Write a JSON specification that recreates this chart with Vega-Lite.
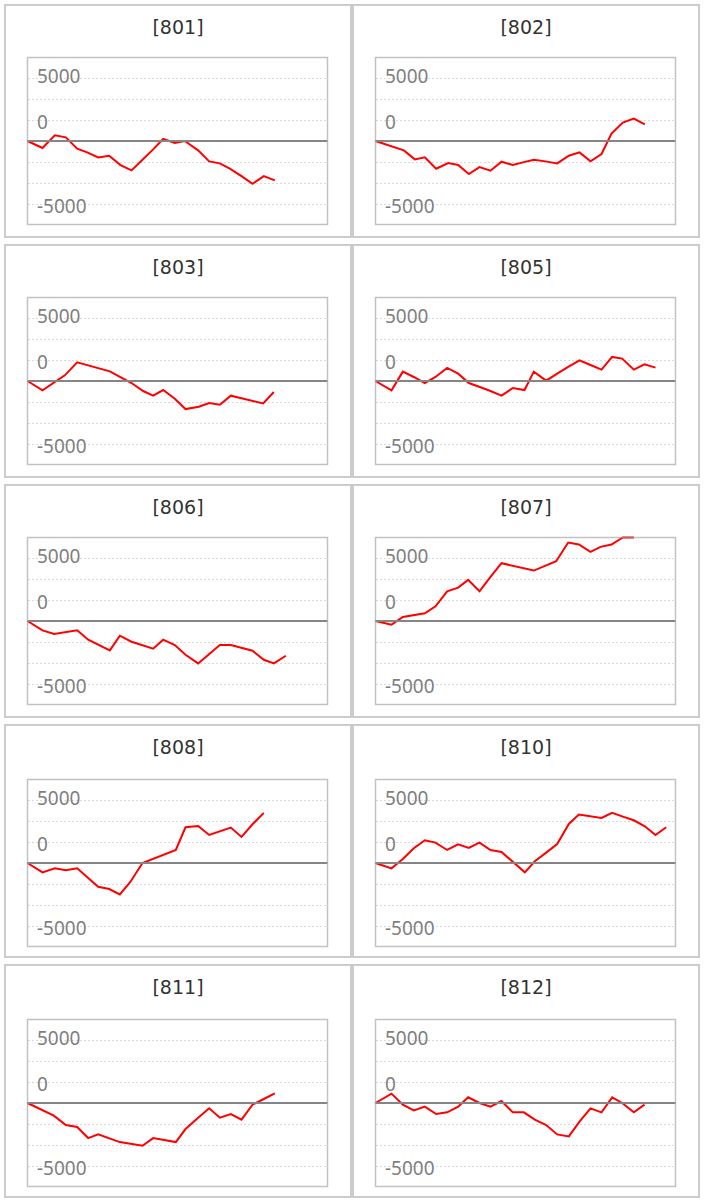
{
"$schema":"https://vega.github.io/schema/vega-lite/v6.json",
"padding":4,
"background":"white",
"data":{"values":[
{"id":"801","x":0,"y":0},{"id":"801","x":450,"y":-672},{"id":"801","x":820,"y":544},{"id":"801","x":1150,"y":352},{"id":"801","x":1490,"y":-736},{"id":"801","x":1790,"y":-1088},{"id":"801","x":2120,"y":-1568},{"id":"801","x":2450,"y":-1408},{"id":"801","x":2790,"y":-2304},{"id":"801","x":3120,"y":-2816},{"id":"801","x":3450,"y":-1792},{"id":"801","x":3770,"y":-800},{"id":"801","x":4070,"y":192},{"id":"801","x":4420,"y":-192},{"id":"801","x":4720,"y":0},{"id":"801","x":5120,"y":-896},{"id":"801","x":5450,"y":-1952},{"id":"801","x":5770,"y":-2144},{"id":"801","x":6070,"y":-2656},{"id":"801","x":6420,"y":-3360},{"id":"801","x":6750,"y":-4096},{"id":"801","x":7090,"y":-3360},{"id":"801","x":7420,"y":-3776},
{"id":"802","x":0,"y":0},{"id":"802","x":850,"y":-896},{"id":"802","x":1180,"y":-1760},{"id":"802","x":1480,"y":-1568},{"id":"802","x":1820,"y":-2656},{"id":"802","x":2180,"y":-2112},{"id":"802","x":2480,"y":-2304},{"id":"802","x":2800,"y":-3168},{"id":"802","x":3120,"y":-2496},{"id":"802","x":3450,"y":-2848},{"id":"802","x":3780,"y":-1984},{"id":"802","x":4120,"y":-2304},{"id":"802","x":4420,"y":-2048},{"id":"802","x":4750,"y":-1792},{"id":"802","x":5100,"y":-1952},{"id":"802","x":5450,"y":-2144},{"id":"802","x":5800,"y":-1408},{"id":"802","x":6120,"y":-1088},{"id":"802","x":6450,"y":-1952},{"id":"802","x":6780,"y":-1248},{"id":"802","x":7080,"y":704},{"id":"802","x":7420,"y":1760},{"id":"802","x":7750,"y":2144},{"id":"802","x":8080,"y":1600},
{"id":"803","x":0,"y":0},{"id":"803","x":450,"y":-896},{"id":"803","x":1120,"y":544},{"id":"803","x":1490,"y":1792},{"id":"803","x":2470,"y":928},{"id":"803","x":3120,"y":-192},{"id":"803","x":3470,"y":-960},{"id":"803","x":3770,"y":-1408},{"id":"803","x":4070,"y":-864},{"id":"803","x":4420,"y":-1696},{"id":"803","x":4740,"y":-2688},{"id":"803","x":5140,"y":-2464},{"id":"803","x":5450,"y":-2112},{"id":"803","x":5770,"y":-2272},{"id":"803","x":6100,"y":-1408},{"id":"803","x":7070,"y":-2144},{"id":"803","x":7390,"y":-1056},
{"id":"805","x":0,"y":0},{"id":"805","x":480,"y":-896},{"id":"805","x":820,"y":896},{"id":"805","x":1150,"y":384},{"id":"805","x":1480,"y":-192},{"id":"805","x":1800,"y":384},{"id":"805","x":2150,"y":1248},{"id":"805","x":2480,"y":704},{"id":"805","x":2800,"y":-192},{"id":"805","x":3130,"y":-576},{"id":"805","x":3450,"y":-960},{"id":"805","x":3780,"y":-1408},{"id":"805","x":4120,"y":-672},{"id":"805","x":4470,"y":-864},{"id":"805","x":4750,"y":896},{"id":"805","x":5120,"y":32},{"id":"805","x":5450,"y":704},{"id":"805","x":5780,"y":1344},{"id":"805","x":6120,"y":1984},{"id":"805","x":6450,"y":1536},{"id":"805","x":6780,"y":1088},{"id":"805","x":7100,"y":2304},{"id":"805","x":7400,"y":2144},{"id":"805","x":7750,"y":1088},{"id":"805","x":8070,"y":1600},{"id":"805","x":8400,"y":1280},
{"id":"806","x":0,"y":0},{"id":"806","x":450,"y":-896},{"id":"806","x":800,"y":-1248},{"id":"806","x":1490,"y":-896},{"id":"806","x":1820,"y":-1792},{"id":"806","x":2470,"y":-2816},{"id":"806","x":2770,"y":-1408},{"id":"806","x":3120,"y":-1984},{"id":"806","x":3770,"y":-2656},{"id":"806","x":4070,"y":-1792},{"id":"806","x":4420,"y":-2304},{"id":"806","x":4740,"y":-3232},{"id":"806","x":5120,"y":-4064},{"id":"806","x":5770,"y":-2304},{"id":"806","x":6100,"y":-2304},{"id":"806","x":6750,"y":-2848},{"id":"806","x":7090,"y":-3712},{"id":"806","x":7390,"y":-4064},{"id":"806","x":7750,"y":-3328},
{"id":"807","x":0,"y":0},{"id":"807","x":480,"y":-352},{"id":"807","x":820,"y":384},{"id":"807","x":1480,"y":736},{"id":"807","x":1800,"y":1408},{"id":"807","x":2150,"y":2848},{"id":"807","x":2480,"y":3200},{"id":"807","x":2780,"y":3936},{"id":"807","x":3120,"y":2848},{"id":"807","x":3450,"y":4224},{"id":"807","x":3780,"y":5536},{"id":"807","x":4750,"y":4832},{"id":"807","x":5420,"y":5728},{"id":"807","x":5780,"y":7520},{"id":"807","x":6100,"y":7328},{"id":"807","x":6450,"y":6624},{"id":"807","x":6750,"y":7104},{"id":"807","x":7080,"y":7328},{"id":"807","x":7420,"y":8000},{"id":"807","x":7750,"y":9500},
{"id":"808","x":0,"y":0},{"id":"808","x":450,"y":-896},{"id":"808","x":820,"y":-512},{"id":"808","x":1150,"y":-704},{"id":"808","x":1490,"y":-512},{"id":"808","x":2120,"y":-2272},{"id":"808","x":2450,"y":-2496},{"id":"808","x":2770,"y":-3008},{"id":"808","x":3090,"y":-1792},{"id":"808","x":3450,"y":0},{"id":"808","x":4450,"y":1248},{"id":"808","x":4740,"y":3424},{"id":"808","x":5120,"y":3552},{"id":"808","x":5450,"y":2688},{"id":"808","x":6100,"y":3392},{"id":"808","x":6420,"y":2496},{"id":"808","x":6750,"y":3712},{"id":"808","x":7090,"y":4800},
{"id":"810","x":0,"y":0},{"id":"810","x":480,"y":-512},{"id":"810","x":820,"y":384},{"id":"810","x":1150,"y":1408},{"id":"810","x":1480,"y":2176},{"id":"810","x":1800,"y":1952},{"id":"810","x":2150,"y":1248},{"id":"810","x":2480,"y":1792},{"id":"810","x":2800,"y":1440},{"id":"810","x":3120,"y":1952},{"id":"810","x":3450,"y":1248},{"id":"810","x":3780,"y":1056},{"id":"810","x":4480,"y":-896},{"id":"810","x":4780,"y":160},{"id":"810","x":5120,"y":992},{"id":"810","x":5450,"y":1824},{"id":"810","x":5800,"y":3744},{"id":"810","x":6100,"y":4640},{"id":"810","x":6780,"y":4320},{"id":"810","x":7100,"y":4800},{"id":"810","x":7420,"y":4448},{"id":"810","x":7750,"y":4096},{"id":"810","x":8080,"y":3520},{"id":"810","x":8400,"y":2688},{"id":"810","x":8720,"y":3424},
{"id":"811","x":0,"y":0},{"id":"811","x":790,"y":-1216},{"id":"811","x":1150,"y":-2112},{"id":"811","x":1490,"y":-2304},{"id":"811","x":1820,"y":-3360},{"id":"811","x":2120,"y":-3008},{"id":"811","x":2770,"y":-3744},{"id":"811","x":3450,"y":-4096},{"id":"811","x":3770,"y":-3360},{"id":"811","x":4450,"y":-3744},{"id":"811","x":4740,"y":-2496},{"id":"811","x":5120,"y":-1408},{"id":"811","x":5450,"y":-512},{"id":"811","x":5770,"y":-1408},{"id":"811","x":6100,"y":-1056},{"id":"811","x":6420,"y":-1600},{"id":"811","x":6750,"y":-160},{"id":"811","x":7090,"y":384},{"id":"811","x":7420,"y":928},
{"id":"812","x":0,"y":0},{"id":"812","x":480,"y":896},{"id":"812","x":820,"y":-160},{"id":"812","x":1150,"y":-704},{"id":"812","x":1480,"y":-352},{"id":"812","x":1820,"y":-1056},{"id":"812","x":2150,"y":-896},{"id":"812","x":2480,"y":-352},{"id":"812","x":2780,"y":544},{"id":"812","x":3120,"y":0},{"id":"812","x":3450,"y":-352},{"id":"812","x":3780,"y":192},{"id":"812","x":4120,"y":-896},{"id":"812","x":4450,"y":-896},{"id":"812","x":4780,"y":-1600},{"id":"812","x":5120,"y":-2112},{"id":"812","x":5450,"y":-3008},{"id":"812","x":5800,"y":-3200},{"id":"812","x":6120,"y":-1792},{"id":"812","x":6450,"y":-512},{"id":"812","x":6780,"y":-896},{"id":"812","x":7100,"y":544},{"id":"812","x":7400,"y":0},{"id":"812","x":7750,"y":-896},{"id":"812","x":8070,"y":-160}
]},
"columns":2,
"spacing":{"row":6,"column":0},
"concat":[
{"title":"[801]","width":346,"height":232,"resolve":{"axis":{"y":"independent"}},"layer":[
 {"transform":[{"filter":"datum.id === '801'"}],"mark":{"type":"line","color":"#ff0000","strokeWidth":2},
  "encoding":{"x":{"field":"x","type":"quantitative","scale":{"domain":[0,9000],"range":[22.5,322.5],"nice":false,"zero":false},"axis":null},
   "y":{"field":"y","type":"quantitative","scale":{"domain":[-8000,8000],"range":[219.5,52.5],"nice":false,"zero":false,"clamp":true},
    "axis":{"values":[-6000,-4000,-2000,2000,4000,6000],"title":null,"domain":false,"ticks":false,"labelPadding":-31.5,"labelAlign":"left","labelBaseline":"middle","labelFont":"Noto Sans","labelFontSize":19,"labelColor":"#7f7f7f","labelOverlap":false,"labelFlush":false,"labelOffset":{"condition":[{"test":"datum.value === 6000","value":-1.5},{"test":"datum.value === -6000","value":3}],"value":2.5},"labelExpr":"datum.value === 6000 ? '5000' : datum.value === 2000 ? '0' : datum.value === -6000 ? '-5000' : ''","grid":true,"gridColor":"#d9d9d9","gridDash":[2,2],"gridWidth":1}}}},
 {"data":{"values":[{}]},"mark":{"type":"rule","color":"#858585","strokeWidth":2},
  "encoding":{"x":{"datum":0,"type":"quantitative","axis":null},"x2":{"datum":9000},"y":{"datum":0,"type":"quantitative","axis":null}}},
 {"data":{"values":[{}]},"mark":{"type":"rect","filled":false,"color":"#999999","strokeOpacity":0.6,"strokeWidth":1.5},
  "encoding":{"x":{"datum":0,"type":"quantitative","axis":null},"x2":{"datum":9000},"y":{"datum":-8000,"type":"quantitative","axis":null},"y2":{"datum":8000}}}
]},
{"title":"[802]","width":346,"height":232,"resolve":{"axis":{"y":"independent"}},"layer":[
 {"transform":[{"filter":"datum.id === '802'"}],"mark":{"type":"line","color":"#ff0000","strokeWidth":2},
  "encoding":{"x":{"field":"x","type":"quantitative","scale":{"domain":[0,9000],"range":[22.5,322.5],"nice":false,"zero":false},"axis":null},
   "y":{"field":"y","type":"quantitative","scale":{"domain":[-8000,8000],"range":[219.5,52.5],"nice":false,"zero":false,"clamp":true},
    "axis":{"values":[-6000,-4000,-2000,2000,4000,6000],"title":null,"domain":false,"ticks":false,"labelPadding":-31.5,"labelAlign":"left","labelBaseline":"middle","labelFont":"Noto Sans","labelFontSize":19,"labelColor":"#7f7f7f","labelOverlap":false,"labelFlush":false,"labelOffset":{"condition":[{"test":"datum.value === 6000","value":-1.5},{"test":"datum.value === -6000","value":3}],"value":2.5},"labelExpr":"datum.value === 6000 ? '5000' : datum.value === 2000 ? '0' : datum.value === -6000 ? '-5000' : ''","grid":true,"gridColor":"#d9d9d9","gridDash":[2,2],"gridWidth":1}}}},
 {"data":{"values":[{}]},"mark":{"type":"rule","color":"#858585","strokeWidth":2},
  "encoding":{"x":{"datum":0,"type":"quantitative","axis":null},"x2":{"datum":9000},"y":{"datum":0,"type":"quantitative","axis":null}}},
 {"data":{"values":[{}]},"mark":{"type":"rect","filled":false,"color":"#999999","strokeOpacity":0.6,"strokeWidth":1.5},
  "encoding":{"x":{"datum":0,"type":"quantitative","axis":null},"x2":{"datum":9000},"y":{"datum":-8000,"type":"quantitative","axis":null},"y2":{"datum":8000}}}
]},
{"title":"[803]","width":346,"height":232,"resolve":{"axis":{"y":"independent"}},"layer":[
 {"transform":[{"filter":"datum.id === '803'"}],"mark":{"type":"line","color":"#ff0000","strokeWidth":2},
  "encoding":{"x":{"field":"x","type":"quantitative","scale":{"domain":[0,9000],"range":[22.5,322.5],"nice":false,"zero":false},"axis":null},
   "y":{"field":"y","type":"quantitative","scale":{"domain":[-8000,8000],"range":[219.5,52.5],"nice":false,"zero":false,"clamp":true},
    "axis":{"values":[-6000,-4000,-2000,2000,4000,6000],"title":null,"domain":false,"ticks":false,"labelPadding":-31.5,"labelAlign":"left","labelBaseline":"middle","labelFont":"Noto Sans","labelFontSize":19,"labelColor":"#7f7f7f","labelOverlap":false,"labelFlush":false,"labelOffset":{"condition":[{"test":"datum.value === 6000","value":-1.5},{"test":"datum.value === -6000","value":3}],"value":2.5},"labelExpr":"datum.value === 6000 ? '5000' : datum.value === 2000 ? '0' : datum.value === -6000 ? '-5000' : ''","grid":true,"gridColor":"#d9d9d9","gridDash":[2,2],"gridWidth":1}}}},
 {"data":{"values":[{}]},"mark":{"type":"rule","color":"#858585","strokeWidth":2},
  "encoding":{"x":{"datum":0,"type":"quantitative","axis":null},"x2":{"datum":9000},"y":{"datum":0,"type":"quantitative","axis":null}}},
 {"data":{"values":[{}]},"mark":{"type":"rect","filled":false,"color":"#999999","strokeOpacity":0.6,"strokeWidth":1.5},
  "encoding":{"x":{"datum":0,"type":"quantitative","axis":null},"x2":{"datum":9000},"y":{"datum":-8000,"type":"quantitative","axis":null},"y2":{"datum":8000}}}
]},
{"title":"[805]","width":346,"height":232,"resolve":{"axis":{"y":"independent"}},"layer":[
 {"transform":[{"filter":"datum.id === '805'"}],"mark":{"type":"line","color":"#ff0000","strokeWidth":2},
  "encoding":{"x":{"field":"x","type":"quantitative","scale":{"domain":[0,9000],"range":[22.5,322.5],"nice":false,"zero":false},"axis":null},
   "y":{"field":"y","type":"quantitative","scale":{"domain":[-8000,8000],"range":[219.5,52.5],"nice":false,"zero":false,"clamp":true},
    "axis":{"values":[-6000,-4000,-2000,2000,4000,6000],"title":null,"domain":false,"ticks":false,"labelPadding":-31.5,"labelAlign":"left","labelBaseline":"middle","labelFont":"Noto Sans","labelFontSize":19,"labelColor":"#7f7f7f","labelOverlap":false,"labelFlush":false,"labelOffset":{"condition":[{"test":"datum.value === 6000","value":-1.5},{"test":"datum.value === -6000","value":3}],"value":2.5},"labelExpr":"datum.value === 6000 ? '5000' : datum.value === 2000 ? '0' : datum.value === -6000 ? '-5000' : ''","grid":true,"gridColor":"#d9d9d9","gridDash":[2,2],"gridWidth":1}}}},
 {"data":{"values":[{}]},"mark":{"type":"rule","color":"#858585","strokeWidth":2},
  "encoding":{"x":{"datum":0,"type":"quantitative","axis":null},"x2":{"datum":9000},"y":{"datum":0,"type":"quantitative","axis":null}}},
 {"data":{"values":[{}]},"mark":{"type":"rect","filled":false,"color":"#999999","strokeOpacity":0.6,"strokeWidth":1.5},
  "encoding":{"x":{"datum":0,"type":"quantitative","axis":null},"x2":{"datum":9000},"y":{"datum":-8000,"type":"quantitative","axis":null},"y2":{"datum":8000}}}
]},
{"title":"[806]","width":346,"height":232,"resolve":{"axis":{"y":"independent"}},"layer":[
 {"transform":[{"filter":"datum.id === '806'"}],"mark":{"type":"line","color":"#ff0000","strokeWidth":2},
  "encoding":{"x":{"field":"x","type":"quantitative","scale":{"domain":[0,9000],"range":[22.5,322.5],"nice":false,"zero":false},"axis":null},
   "y":{"field":"y","type":"quantitative","scale":{"domain":[-8000,8000],"range":[219.5,52.5],"nice":false,"zero":false,"clamp":true},
    "axis":{"values":[-6000,-4000,-2000,2000,4000,6000],"title":null,"domain":false,"ticks":false,"labelPadding":-31.5,"labelAlign":"left","labelBaseline":"middle","labelFont":"Noto Sans","labelFontSize":19,"labelColor":"#7f7f7f","labelOverlap":false,"labelFlush":false,"labelOffset":{"condition":[{"test":"datum.value === 6000","value":-1.5},{"test":"datum.value === -6000","value":3}],"value":2.5},"labelExpr":"datum.value === 6000 ? '5000' : datum.value === 2000 ? '0' : datum.value === -6000 ? '-5000' : ''","grid":true,"gridColor":"#d9d9d9","gridDash":[2,2],"gridWidth":1}}}},
 {"data":{"values":[{}]},"mark":{"type":"rule","color":"#858585","strokeWidth":2},
  "encoding":{"x":{"datum":0,"type":"quantitative","axis":null},"x2":{"datum":9000},"y":{"datum":0,"type":"quantitative","axis":null}}},
 {"data":{"values":[{}]},"mark":{"type":"rect","filled":false,"color":"#999999","strokeOpacity":0.6,"strokeWidth":1.5},
  "encoding":{"x":{"datum":0,"type":"quantitative","axis":null},"x2":{"datum":9000},"y":{"datum":-8000,"type":"quantitative","axis":null},"y2":{"datum":8000}}}
]},
{"title":"[807]","width":346,"height":232,"resolve":{"axis":{"y":"independent"}},"layer":[
 {"transform":[{"filter":"datum.id === '807'"}],"mark":{"type":"line","color":"#ff0000","strokeWidth":2},
  "encoding":{"x":{"field":"x","type":"quantitative","scale":{"domain":[0,9000],"range":[22.5,322.5],"nice":false,"zero":false},"axis":null},
   "y":{"field":"y","type":"quantitative","scale":{"domain":[-8000,8000],"range":[219.5,52.5],"nice":false,"zero":false,"clamp":true},
    "axis":{"values":[-6000,-4000,-2000,2000,4000,6000],"title":null,"domain":false,"ticks":false,"labelPadding":-31.5,"labelAlign":"left","labelBaseline":"middle","labelFont":"Noto Sans","labelFontSize":19,"labelColor":"#7f7f7f","labelOverlap":false,"labelFlush":false,"labelOffset":{"condition":[{"test":"datum.value === 6000","value":-1.5},{"test":"datum.value === -6000","value":3}],"value":2.5},"labelExpr":"datum.value === 6000 ? '5000' : datum.value === 2000 ? '0' : datum.value === -6000 ? '-5000' : ''","grid":true,"gridColor":"#d9d9d9","gridDash":[2,2],"gridWidth":1}}}},
 {"data":{"values":[{}]},"mark":{"type":"rule","color":"#858585","strokeWidth":2},
  "encoding":{"x":{"datum":0,"type":"quantitative","axis":null},"x2":{"datum":9000},"y":{"datum":0,"type":"quantitative","axis":null}}},
 {"data":{"values":[{}]},"mark":{"type":"rect","filled":false,"color":"#999999","strokeOpacity":0.6,"strokeWidth":1.5},
  "encoding":{"x":{"datum":0,"type":"quantitative","axis":null},"x2":{"datum":9000},"y":{"datum":-8000,"type":"quantitative","axis":null},"y2":{"datum":8000}}}
]},
{"title":"[808]","width":346,"height":232,"resolve":{"axis":{"y":"independent"}},"layer":[
 {"transform":[{"filter":"datum.id === '808'"}],"mark":{"type":"line","color":"#ff0000","strokeWidth":2},
  "encoding":{"x":{"field":"x","type":"quantitative","scale":{"domain":[0,9000],"range":[22.5,322.5],"nice":false,"zero":false},"axis":null},
   "y":{"field":"y","type":"quantitative","scale":{"domain":[-8000,8000],"range":[221.5,54.5],"nice":false,"zero":false,"clamp":true},
    "axis":{"values":[-6000,-4000,-2000,2000,4000,6000],"title":null,"domain":false,"ticks":false,"labelPadding":-31.5,"labelAlign":"left","labelBaseline":"middle","labelFont":"Noto Sans","labelFontSize":19,"labelColor":"#7f7f7f","labelOverlap":false,"labelFlush":false,"labelOffset":{"condition":[{"test":"datum.value === 6000","value":-1.5},{"test":"datum.value === -6000","value":3}],"value":2.5},"labelExpr":"datum.value === 6000 ? '5000' : datum.value === 2000 ? '0' : datum.value === -6000 ? '-5000' : ''","grid":true,"gridColor":"#d9d9d9","gridDash":[2,2],"gridWidth":1}}}},
 {"data":{"values":[{}]},"mark":{"type":"rule","color":"#858585","strokeWidth":2},
  "encoding":{"x":{"datum":0,"type":"quantitative","axis":null},"x2":{"datum":9000},"y":{"datum":0,"type":"quantitative","axis":null}}},
 {"data":{"values":[{}]},"mark":{"type":"rect","filled":false,"color":"#999999","strokeOpacity":0.6,"strokeWidth":1.5},
  "encoding":{"x":{"datum":0,"type":"quantitative","axis":null},"x2":{"datum":9000},"y":{"datum":-8000,"type":"quantitative","axis":null},"y2":{"datum":8000}}}
]},
{"title":"[810]","width":346,"height":232,"resolve":{"axis":{"y":"independent"}},"layer":[
 {"transform":[{"filter":"datum.id === '810'"}],"mark":{"type":"line","color":"#ff0000","strokeWidth":2},
  "encoding":{"x":{"field":"x","type":"quantitative","scale":{"domain":[0,9000],"range":[22.5,322.5],"nice":false,"zero":false},"axis":null},
   "y":{"field":"y","type":"quantitative","scale":{"domain":[-8000,8000],"range":[221.5,54.5],"nice":false,"zero":false,"clamp":true},
    "axis":{"values":[-6000,-4000,-2000,2000,4000,6000],"title":null,"domain":false,"ticks":false,"labelPadding":-31.5,"labelAlign":"left","labelBaseline":"middle","labelFont":"Noto Sans","labelFontSize":19,"labelColor":"#7f7f7f","labelOverlap":false,"labelFlush":false,"labelOffset":{"condition":[{"test":"datum.value === 6000","value":-1.5},{"test":"datum.value === -6000","value":3}],"value":2.5},"labelExpr":"datum.value === 6000 ? '5000' : datum.value === 2000 ? '0' : datum.value === -6000 ? '-5000' : ''","grid":true,"gridColor":"#d9d9d9","gridDash":[2,2],"gridWidth":1}}}},
 {"data":{"values":[{}]},"mark":{"type":"rule","color":"#858585","strokeWidth":2},
  "encoding":{"x":{"datum":0,"type":"quantitative","axis":null},"x2":{"datum":9000},"y":{"datum":0,"type":"quantitative","axis":null}}},
 {"data":{"values":[{}]},"mark":{"type":"rect","filled":false,"color":"#999999","strokeOpacity":0.6,"strokeWidth":1.5},
  "encoding":{"x":{"datum":0,"type":"quantitative","axis":null},"x2":{"datum":9000},"y":{"datum":-8000,"type":"quantitative","axis":null},"y2":{"datum":8000}}}
]},
{"title":"[811]","width":346,"height":232,"resolve":{"axis":{"y":"independent"}},"layer":[
 {"transform":[{"filter":"datum.id === '811'"}],"mark":{"type":"line","color":"#ff0000","strokeWidth":2},
  "encoding":{"x":{"field":"x","type":"quantitative","scale":{"domain":[0,9000],"range":[22.5,322.5],"nice":false,"zero":false},"axis":null},
   "y":{"field":"y","type":"quantitative","scale":{"domain":[-8000,8000],"range":[221.5,54.5],"nice":false,"zero":false,"clamp":true},
    "axis":{"values":[-6000,-4000,-2000,2000,4000,6000],"title":null,"domain":false,"ticks":false,"labelPadding":-31.5,"labelAlign":"left","labelBaseline":"middle","labelFont":"Noto Sans","labelFontSize":19,"labelColor":"#7f7f7f","labelOverlap":false,"labelFlush":false,"labelOffset":{"condition":[{"test":"datum.value === 6000","value":-1.5},{"test":"datum.value === -6000","value":3}],"value":2.5},"labelExpr":"datum.value === 6000 ? '5000' : datum.value === 2000 ? '0' : datum.value === -6000 ? '-5000' : ''","grid":true,"gridColor":"#d9d9d9","gridDash":[2,2],"gridWidth":1}}}},
 {"data":{"values":[{}]},"mark":{"type":"rule","color":"#858585","strokeWidth":2},
  "encoding":{"x":{"datum":0,"type":"quantitative","axis":null},"x2":{"datum":9000},"y":{"datum":0,"type":"quantitative","axis":null}}},
 {"data":{"values":[{}]},"mark":{"type":"rect","filled":false,"color":"#999999","strokeOpacity":0.6,"strokeWidth":1.5},
  "encoding":{"x":{"datum":0,"type":"quantitative","axis":null},"x2":{"datum":9000},"y":{"datum":-8000,"type":"quantitative","axis":null},"y2":{"datum":8000}}}
]},
{"title":"[812]","width":346,"height":232,"resolve":{"axis":{"y":"independent"}},"layer":[
 {"transform":[{"filter":"datum.id === '812'"}],"mark":{"type":"line","color":"#ff0000","strokeWidth":2},
  "encoding":{"x":{"field":"x","type":"quantitative","scale":{"domain":[0,9000],"range":[22.5,322.5],"nice":false,"zero":false},"axis":null},
   "y":{"field":"y","type":"quantitative","scale":{"domain":[-8000,8000],"range":[221.5,54.5],"nice":false,"zero":false,"clamp":true},
    "axis":{"values":[-6000,-4000,-2000,2000,4000,6000],"title":null,"domain":false,"ticks":false,"labelPadding":-31.5,"labelAlign":"left","labelBaseline":"middle","labelFont":"Noto Sans","labelFontSize":19,"labelColor":"#7f7f7f","labelOverlap":false,"labelFlush":false,"labelOffset":{"condition":[{"test":"datum.value === 6000","value":-1.5},{"test":"datum.value === -6000","value":3}],"value":2.5},"labelExpr":"datum.value === 6000 ? '5000' : datum.value === 2000 ? '0' : datum.value === -6000 ? '-5000' : ''","grid":true,"gridColor":"#d9d9d9","gridDash":[2,2],"gridWidth":1}}}},
 {"data":{"values":[{}]},"mark":{"type":"rule","color":"#858585","strokeWidth":2},
  "encoding":{"x":{"datum":0,"type":"quantitative","axis":null},"x2":{"datum":9000},"y":{"datum":0,"type":"quantitative","axis":null}}},
 {"data":{"values":[{}]},"mark":{"type":"rect","filled":false,"color":"#999999","strokeOpacity":0.6,"strokeWidth":1.5},
  "encoding":{"x":{"datum":0,"type":"quantitative","axis":null},"x2":{"datum":9000},"y":{"datum":-8000,"type":"quantitative","axis":null},"y2":{"datum":8000}}}
]}
],
"config":{
 "view":{"stroke":"#cccccc","strokeWidth":2},
 "title":{"font":"DejaVu Sans","fontSize":19,"fontWeight":"normal","color":"#333333","anchor":"middle","frame":"group","baseline":"middle","offset":-33}
}
}
